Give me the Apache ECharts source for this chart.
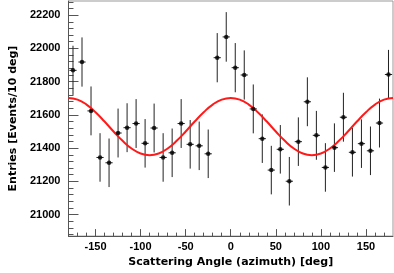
<!DOCTYPE html>
<html><head><meta charset="utf-8">
<script src="https://cdn.jsdelivr.net/npm/echarts@6/dist/echarts.min.js"></script>
<style>html,body{margin:0;padding:0;background:#fff}#c{width:394px;height:273px}</style>
</head><body><div id="c"></div>
<script>
// Bin centers (deg)
var binCenters = [-175,-165,-155,-145,-135,-125,-115,-105,-95,-85,-75,-65,-55,-45,-35,-25,-15,-5,5,15,25,35,45,55,65,75,85,95,105,115,125,135,145,155,165,175];
// Entries per bin
var entries = [21868,21918,21624,21344,21312,21491,21523,21548,21429,21521,21344,21372,21548,21423,21414,21366,21944,22069,21884,21840,21636,21457,21268,21393,21201,21439,21679,21477,21284,21403,21586,21375,21427,21384,21551,21843];
// Statistical errors per bin
var errors = [148,148,147,146,146,147,147,147,146,147,146,146,147,146,146,146,148,149,148,148,147,146,146,146,146,146,147,147,146,146,147,146,146,146,147,148];
// Fit curve
var fitX = [-180,-170,-160,-150,-140,-130,-120,-110,-100,-90,-80,-70,-60,-50,-40,-30,-20,-10,0,10,20,30,40,50,60,70,80,90,100,110,120,130,140,150,160,170,180];
var fitY = [21702,21692,21662,21616,21560,21500,21444,21398,21368,21358,21368,21398,21444,21500,21560,21616,21662,21692,21702,21692,21662,21616,21560,21500,21444,21398,21368,21358,21368,21398,21444,21500,21560,21616,21662,21692,21702];
var xTicks = [-150,-100,-50,0,50,100,150];
var yTicks = [21000,21200,21400,21600,21800,22000,22200];
var xMinor = [-170,-160,-150,-140,-130,-120,-110,-100,-90,-80,-70,-60,-50,-40,-30,-20,-10,0,10,20,30,40,50,60,70,80,90,100,110,120,130,140,150,160,170];
var yMinor = [20880,20920,20960,21000,21040,21080,21120,21160,21200,21240,21280,21320,21360,21400,21440,21480,21520,21560,21600,21640,21680,21720,21760,21800,21840,21880,21920,21960,22000,22040,22080,22120,22160,22200,22240,22280];

var X_MIN=-180, X_MAX=180, Y_MIN=20871, Y_MAX=22285;
var xHalf = 4;
var font = {fontFamily:'Liberation Sans', fontWeight:'bold', color:'#000', fontSize:11};
var titleFont = {fontFamily:'DejaVu Sans', fontWeight:'bold', color:'#000', fontSize:11};
function plain(v){ return String(v); }

var pts = binCenters.map(function(x,i){return [x, entries[i], errors[i]];});
var fit = fitX.map(function(x,i){return [x, fitY[i]];});

var chart = echarts.init(document.getElementById('c'));
chart.setOption({
  animation:false,
  grid:{left:59, right:1, top:1, bottom:35, show:true, borderColor:'#999', borderWidth:1},
  xAxis:[
    {type:'value', min:X_MIN, max:X_MAX, splitLine:{show:false},
     axisLine:{onZero:false, lineStyle:{color:'#555'}},
     axisTick:{inside:true, length:7, customValues:xTicks, lineStyle:{color:'#555'}},
     axisLabel:Object.assign({margin:5, customValues:xTicks, formatter:plain}, font),
     name:'Scattering Angle (azimuth) [deg]', nameLocation:'middle', nameGap:14,
     nameTextStyle:titleFont},
    {type:'value', min:X_MIN, max:X_MAX, position:'bottom', splitLine:{show:false},
     axisLine:{show:false, onZero:false}, axisLabel:{show:false},
     axisTick:{inside:true, length:3.5, customValues:xMinor, lineStyle:{color:'#555'}}}
  ],
  yAxis:[
    {type:'value', min:Y_MIN, max:Y_MAX, splitLine:{show:false},
     axisLine:{show:true, onZero:false, lineStyle:{color:'#555'}},
     axisTick:{show:true, inside:true, length:10, customValues:yTicks, lineStyle:{color:'#555'}},
     axisLabel:Object.assign({margin:8, customValues:yTicks, formatter:plain}, font),
     name:'Entries [Events/10 deg]', nameLocation:'middle', nameGap:46, nameRotate:90,
     nameTextStyle:titleFont},
    {type:'value', min:Y_MIN, max:Y_MAX, position:'left', splitLine:{show:false},
     axisLine:{show:false, onZero:false}, axisLabel:{show:false},
     axisTick:{show:true, inside:true, length:5, customValues:yMinor, lineStyle:{color:'#555'}}}
  ],
  series:[
    {type:'custom', xAxisIndex:0, yAxisIndex:0, data:pts, z:3,
     renderItem:function(params, api){
       var x=api.value(0), y=api.value(1), e=api.value(2);
       var top=api.coord([x,y+e]), bot=api.coord([x,y-e]);
       var l=api.coord([x-xHalf,y]), r=api.coord([x+xHalf,y]);
       return {type:'group', children:[
         {type:'line', shape:{x1:top[0],y1:top[1],x2:bot[0],y2:bot[1]}, style:{stroke:'#222', lineWidth:1}},
         {type:'line', shape:{x1:l[0],y1:l[1],x2:r[0],y2:r[1]}, style:{stroke:'#222', lineWidth:1}}
       ]};
     }},
    {type:'line', data:fit, smooth:true, showSymbol:false, symbol:'none', z:4,
     lineStyle:{color:'#ff1a1a', width:2}},
    {type:'scatter', data:pts.map(function(p){return [p[0],p[1]];}), symbol:'circle', symbolSize:4.5, z:5,
     itemStyle:{color:'#000'}}
  ]
});
</script></body></html>
